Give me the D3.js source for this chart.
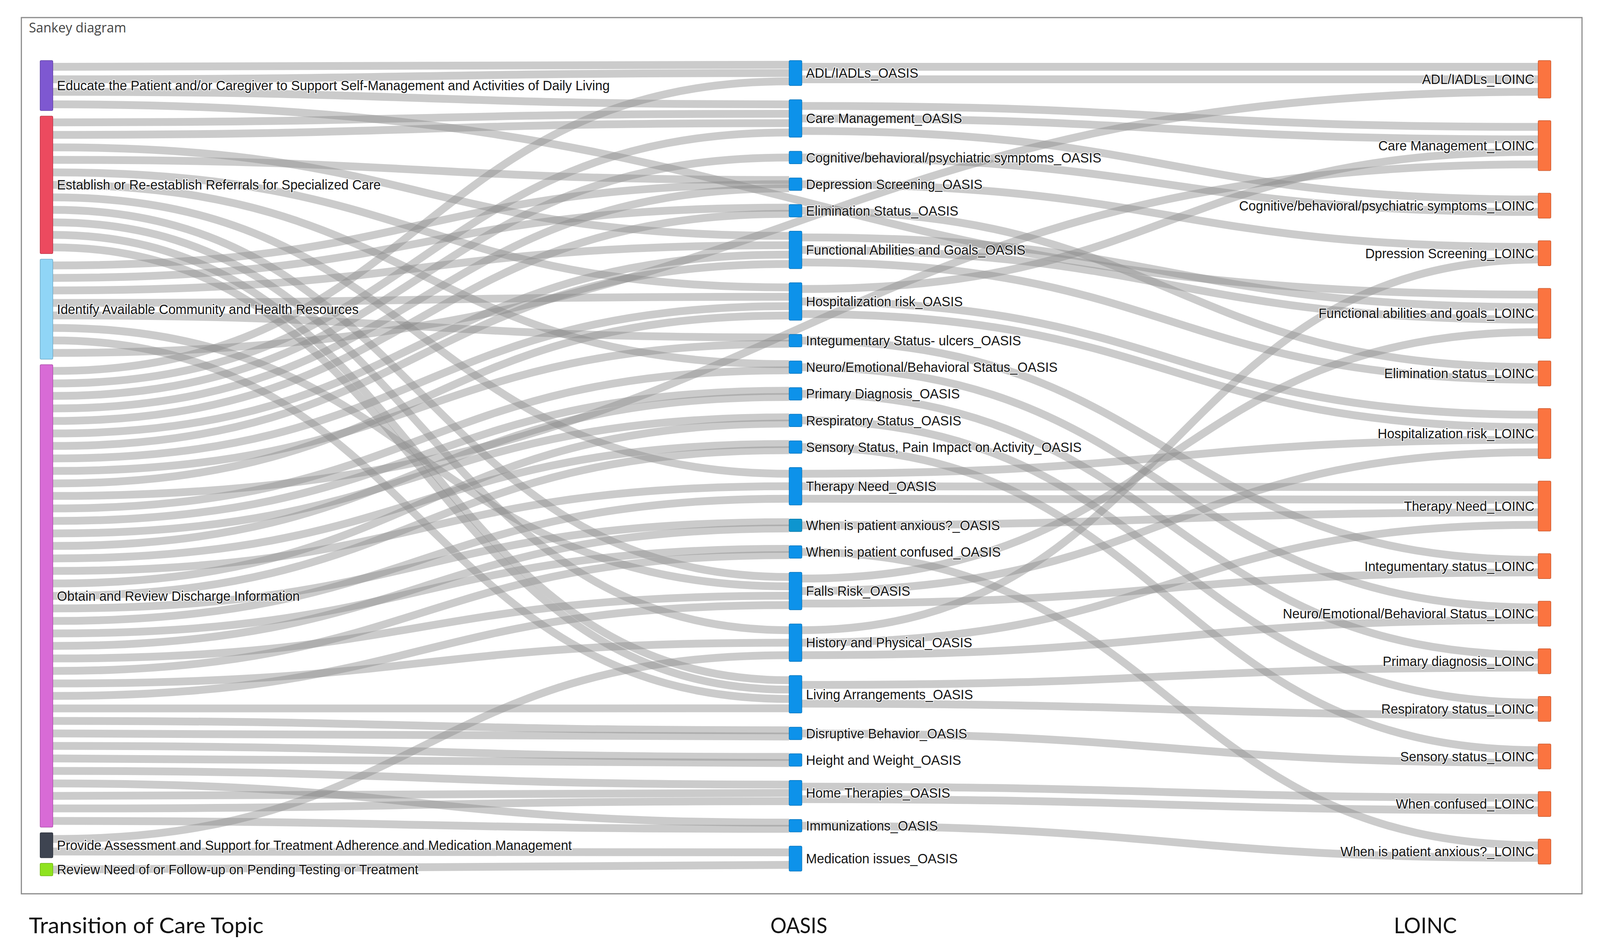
<!DOCTYPE html>
<html>
<head>
<meta charset="utf-8">
<script src="https://cdn.jsdelivr.net/npm/d3@7"></script>
<style>
  html, body { margin: 0; padding: 0; background: #fff; overflow: hidden; }
  svg { display: block; }
</style>
</head>
<body>
<svg id="chart"></svg>
<script>
// Données : les trois colonnes du diagramme
var topicNames = [
  "Educate the Patient and/or Caregiver to Support Self-Management and Activities of Daily Living",
  "Establish or Re-establish Referrals for Specialized Care",
  "Identify Available Community and Health Resources",
  "Obtain and Review Discharge Information",
  "Provide Assessment and Support for Treatment Adherence and Medication Management",
  "Review Need of or Follow-up on Pending Testing or Treatment"
];
var topicColors = ["#7e58d1", "#ec4a5f", "#90d5f6", "#d86bd6", "#3e4451", "#8fe31f"];

var oasisNames = [
  "ADL/IADLs_OASIS", "Care Management_OASIS", "Cognitive/behavioral/psychiatric symptoms_OASIS",
  "Depression Screening_OASIS", "Elimination Status_OASIS", "Functional Abilities and Goals_OASIS",
  "Hospitalization risk_OASIS", "Integumentary Status- ulcers_OASIS", "Neuro/Emotional/Behavioral Status_OASIS",
  "Primary Diagnosis_OASIS", "Respiratory Status_OASIS", "Sensory Status, Pain Impact on Activity_OASIS",
  "Therapy Need_OASIS", "When is patient anxious?_OASIS", "When is patient confused_OASIS",
  "Falls Risk_OASIS", "History and Physical_OASIS", "Living Arrangements_OASIS",
  "Disruptive Behavior_OASIS", "Height and Weight_OASIS", "Home Therapies_OASIS",
  "Immunizations_OASIS", "Medication issues_OASIS"
];
var oasisSizes = [2, 3, 1, 1, 1, 3, 3, 1, 1, 1, 1, 1, 3, 1, 1, 3, 3, 3, 1, 1, 2, 1, 2];
var oasisColor = "#0d92ea";
var oasisColorExceptions = { "When is patient anxious?_OASIS": "#0e95cf" };

var loincNames = [
  "ADL/IADLs_LOINC", "Care Management_LOINC", "Cognitive/behavioral/psychiatric symptoms_LOINC",
  "Dpression Screening_LOINC", "Functional abilities and goals_LOINC", "Elimination status_LOINC",
  "Hospitalization risk_LOINC", "Therapy Need_LOINC", "Integumentary status_LOINC",
  "Neuro/Emotional/Behavioral Status_LOINC", "Primary diagnosis_LOINC", "Respiratory status_LOINC",
  "Sensory status_LOINC", "When confused_LOINC", "When is patient anxious?_LOINC"
];
var loincColor = "#fb7440";

var columnTitles = ["Transition of Care Topic", "OASIS", "LOINC"];

// Liens (chaque lien = 1 unité), dans l'ordre de départ
var topicFlows = [
  [topicNames[0], ["ADL/IADLs_OASIS", "ADL/IADLs_OASIS", "Care Management_OASIS", "Functional abilities and goals_LOINC"]],
  [topicNames[1], ["Care Management_OASIS", "Care Management_OASIS", "Functional Abilities and Goals_OASIS",
    "Depression Screening_OASIS", "Hospitalization risk_OASIS", "Neuro/Emotional/Behavioral Status_OASIS",
    "Therapy Need_OASIS", "Falls Risk_OASIS", "History and Physical_OASIS",
    "Living Arrangements_OASIS", "Living Arrangements_OASIS"]],
  [topicNames[2], ["Depression Screening_OASIS", "Elimination Status_OASIS", "Functional Abilities and Goals_OASIS",
    "Hospitalization risk_OASIS", "Integumentary Status- ulcers_OASIS", "Falls Risk_OASIS",
    "Living Arrangements_OASIS", "ADL/IADLs_LOINC"]],
  [topicNames[3], ["ADL/IADLs_OASIS", "Care Management_OASIS", "Cognitive/behavioral/psychiatric symptoms_OASIS",
    "Depression Screening_OASIS", "Elimination Status_OASIS", "Functional Abilities and Goals_OASIS",
    "Functional Abilities and Goals_OASIS", "Hospitalization risk_OASIS", "Integumentary Status- ulcers_OASIS",
    "Hospitalization risk_OASIS", "Care Management_LOINC", "Neuro/Emotional/Behavioral Status_OASIS",
    "Primary Diagnosis_OASIS", "Respiratory Status_OASIS", "Primary Diagnosis_OASIS",
    "Sensory Status, Pain Impact on Activity_OASIS", "Therapy Need_OASIS", "Respiratory Status_OASIS",
    "Sensory Status, Pain Impact on Activity_OASIS", "When is patient anxious?_OASIS", "Therapy Need_OASIS",
    "When is patient confused_OASIS", "When is patient anxious?_OASIS", "Falls Risk_OASIS",
    "When is patient confused_OASIS", "History and Physical_OASIS", "Falls Risk_OASIS",
    "Living Arrangements_OASIS", "Disruptive Behavior_OASIS", "Disruptive Behavior_OASIS",
    "Height and Weight_OASIS", "Height and Weight_OASIS", "Home Therapies_OASIS",
    "Immunizations_OASIS", "Home Therapies_OASIS", "Home Therapies_OASIS", "Immunizations_OASIS"]],
  [topicNames[4], ["History and Physical_OASIS", "Medication issues_OASIS"]],
  [topicNames[5], ["Medication issues_OASIS"]]
];

var oasisFlows = [
  ["ADL/IADLs_OASIS", ["ADL/IADLs_LOINC", "ADL/IADLs_LOINC"]],
  ["Care Management_OASIS", ["Care Management_LOINC", "Care Management_LOINC", "Cognitive/behavioral/psychiatric symptoms_LOINC"]],
  ["Cognitive/behavioral/psychiatric symptoms_OASIS", ["Cognitive/behavioral/psychiatric symptoms_LOINC"]],
  ["Depression Screening_OASIS", ["Dpression Screening_LOINC"]],
  ["Elimination Status_OASIS", ["Elimination status_LOINC"]],
  ["Functional Abilities and Goals_OASIS", ["Functional abilities and goals_LOINC", "Functional abilities and goals_LOINC", "Elimination status_LOINC"]],
  ["Hospitalization risk_OASIS", ["Care Management_LOINC", "Hospitalization risk_LOINC", "Hospitalization risk_LOINC"]],
  ["Integumentary Status- ulcers_OASIS", ["Integumentary status_LOINC"]],
  ["Neuro/Emotional/Behavioral Status_OASIS", ["Neuro/Emotional/Behavioral Status_LOINC"]],
  ["Primary Diagnosis_OASIS", ["Primary diagnosis_LOINC"]],
  ["Respiratory Status_OASIS", ["Respiratory status_LOINC"]],
  ["Sensory Status, Pain Impact on Activity_OASIS", ["Sensory status_LOINC"]],
  ["Therapy Need_OASIS", ["Hospitalization risk_LOINC", "Therapy Need_LOINC", "Therapy Need_LOINC"]],
  ["When is patient anxious?_OASIS", ["Therapy Need_LOINC"]],
  ["When is patient confused_OASIS", ["When is patient anxious?_LOINC"]],
  ["Falls Risk_OASIS", ["Functional abilities and goals_LOINC", "Hospitalization risk_LOINC", "Integumentary status_LOINC"]],
  ["History and Physical_OASIS", ["Dpression Screening_LOINC", "Therapy Need_LOINC", "Neuro/Emotional/Behavioral Status_LOINC"]],
  ["Living Arrangements_OASIS", ["Primary diagnosis_LOINC", "Respiratory status_LOINC"]],
  ["Disruptive Behavior_OASIS", ["Sensory status_LOINC"]],
  ["Home Therapies_OASIS", ["When confused_LOINC", "When confused_LOINC"]],
  ["Immunizations_OASIS", ["When is patient anxious?_LOINC"]]
];

// Mise en page
var W = 4268, H = 2414;
var topY = 155;
var nodeW = 34;
var colBottom = [2242, 2230, 2212];
var linkWidth = 20;

var svg = d3.select("#chart")
  .attr("viewBox", "0 0 " + W + " " + H)
  .attr("preserveAspectRatio", "none")
  .style("width", "100vw")
  .style("height", "100vh");

svg.append("rect").attr("width", W).attr("height", H).attr("fill", "#fff");

// cadre
svg.append("rect")
  .attr("x", 57).attr("y", 45)
  .attr("width", 4163).attr("height", 2243)
  .attr("fill", "none")
  .attr("stroke", "#8a8a8a")
  .attr("stroke-width", 3);

svg.append("text")
  .attr("x", 77).attr("y", 83)
  .attr("font-family", "Open Sans")
  .attr("font-size", "35px")
  .attr("fill", "#444")
  .text("Sankey diagram");

var ky = d3.scaleLinear().domain([0, 1]).range([0, 32]); // 1 lien = 32 px
var xCol = d3.scaleLinear().domain([0, 2]).range([107, 4103]);

// construction des noeuds
var nodeByName = new Map();
function addNode(name, col, size, color) {
  var n = { name: name, col: col, size: size, color: color, out: [], inc: [] };
  nodeByName.set(name, n);
  return n;
}
var columns = [[], [], []];
topicNames.forEach(function(name, i) {
  var flows = topicFlows.find(function(f) { return f[0] === name; })[1];
  columns[0].push(addNode(name, 0, flows.length, topicColors[i]));
});
oasisNames.forEach(function(name, i) {
  columns[1].push(addNode(name, 1, oasisSizes[i], oasisColorExceptions[name] || oasisColor));
});
loincNames.forEach(function(name) {
  columns[2].push(addNode(name, 2, 0, loincColor));
});

// liens
var links = [];
topicFlows.concat(oasisFlows).forEach(function(f) {
  var s = nodeByName.get(f[0]);
  f[1].forEach(function(t) {
    var l = { source: s, target: nodeByName.get(t) };
    s.out.push(l);
    l.target.inc.push(l);
    links.push(l);
  });
});
columns[2].forEach(function(n) { n.size = n.inc.length; });

// positions verticales par colonne
columns.forEach(function(col, c) {
  var total = d3.sum(col, function(n) { return n.size; });
  var pad = (colBottom[c] - topY - ky(total)) / (col.length - 1);
  var y = topY;
  col.forEach(function(n) {
    n.x0 = xCol(c);
    n.x1 = n.x0 + nodeW;
    n.y0 = y;
    n.y1 = y + ky(n.size);
    y = n.y1 + pad;
  });
});

// extrémités des liens
columns.forEach(function(col, c) {
  col.forEach(function(n) {
    var outs = n.out.slice();
    if (c === 1) outs.sort(function(a, b) { return a.target.y0 - b.target.y0; });
    outs.forEach(function(l, i) {
      l.y0 = n.y0 + (i + 0.5) * (n.y1 - n.y0) / outs.length;
    });
  });
});
columns.forEach(function(col) {
  col.forEach(function(n) {
    var ins = n.inc.slice().sort(function(a, b) { return a.y0 - b.y0; });
    ins.forEach(function(l, i) {
      l.y1 = n.y0 + (i + 0.5) * (n.y1 - n.y0) / ins.length;
    });
  });
});

var linkPath = d3.linkHorizontal()
  .source(function(d) { return [d.source.x1, d.y0]; })
  .target(function(d) { return [d.target.x0, d.y1]; });

svg.append("g")
  .attr("fill", "none")
  .selectAll("path")
  .data(links)
  .enter()
  .append("path")
  .attr("d", linkPath)
  .attr("stroke", "#8c8c8c")
  .attr("stroke-opacity", 0.45)
  .attr("stroke-width", linkWidth);

var allNodes = columns[0].concat(columns[1], columns[2]);

svg.append("g")
  .selectAll("rect")
  .data(allNodes)
  .enter()
  .append("rect")
  .attr("x", function(d) { return d.x0; })
  .attr("y", function(d) { return d.y0; })
  .attr("width", nodeW)
  .attr("height", function(d) { return d.y1 - d.y0; })
  .attr("rx", 3)
  .attr("fill", function(d) { return d.color; })
  .attr("stroke", function(d) { return d3.color(d.color).darker(0.6); })
  .attr("stroke-width", 1.5);

// étiquettes
svg.append("g")
  .selectAll("text")
  .data(allNodes)
  .enter()
  .append("text")
  .attr("x", function(d) { return d.col === 2 ? d.x0 - 10 : d.x1 + 11; })
  .attr("y", function(d) { return (d.y0 + d.y1) / 2; })
  .attr("dy", "0.35em")
  .attr("text-anchor", function(d) { return d.col === 2 ? "end" : "start"; })
  .attr("font-family", "Liberation Sans, Arial")
  .attr("font-size", "35px")
  .attr("fill", "#151515")
  .attr("stroke", "#fff")
  .attr("stroke-width", 4)
  .attr("stroke-opacity", 0.7)
  .attr("paint-order", "stroke")
  .text(function(d) { return d.name; });

// titres des colonnes sous le cadre (largeurs)
var titleX = [77, 2055, 3718];
var titleLen = [626, 152, 168];
svg.append("g")
  .selectAll("text")
  .data(columnTitles)
  .enter()
  .append("text")
  .attr("x", function(d, i) { return titleX[i]; })
  .attr("y", 2389)
  .attr("font-family", "Lato")
  .attr("font-size", "56px")
  .attr("textLength", function(d, i) { return titleLen[i]; })
  .attr("lengthAdjust", "spacingAndGlyphs")
  .attr("fill", "#111")
  .text(function(d) { return d; });
</script>
</body>
</html>
